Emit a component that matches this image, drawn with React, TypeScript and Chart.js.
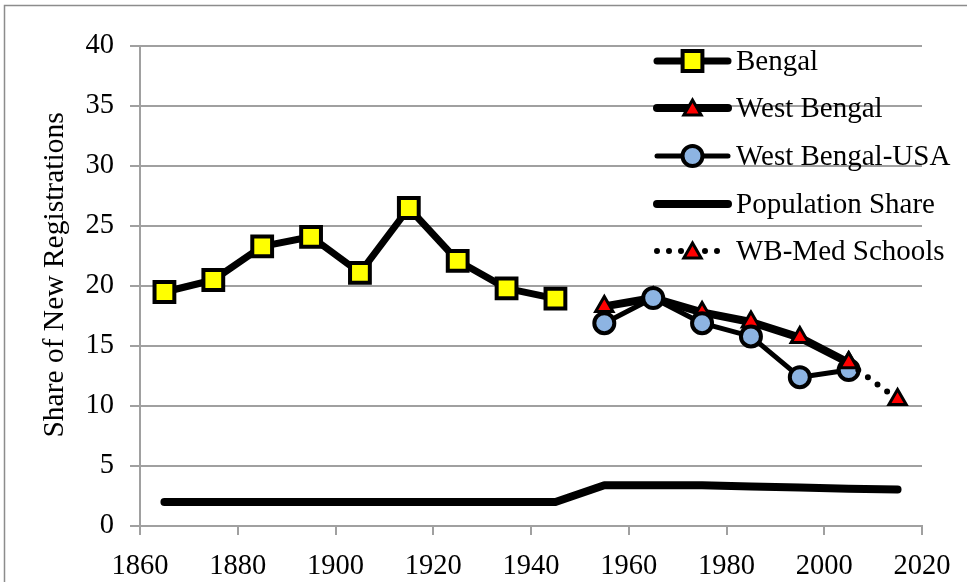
import React, { useEffect, useRef } from 'react';
import { Chart, registerables } from 'chart.js';

Chart.register(...registerables);

const bengalYears = [1865, 1875, 1885, 1895, 1905, 1915, 1925, 1935, 1945];
const bengalValues = [19.5, 20.5, 23.3, 24.1, 21.1, 26.5, 22.1, 19.8, 18.95];
const wbYears = [1955, 1965, 1975, 1985, 1995, 2005];
const wbValues = [18.3, 19.0, 17.8, 17.0, 15.7, 13.6];
const wbUsaYears = [1955, 1965, 1975, 1985, 1995, 2005];
const wbUsaValues = [16.9, 19.0, 16.9, 15.8, 12.4, 13.0];
const popYears = [1865, 1875, 1885, 1895, 1905, 1915, 1925, 1935, 1945, 1955, 1965, 1975, 1985, 1995, 2005, 2015];
const popValues = [2.0, 2.0, 2.0, 2.0, 2.0, 2.0, 2.0, 2.0, 2.0, 3.4, 3.4, 3.4, 3.3, 3.2, 3.1, 3.05];
const medYears = [2005, 2015];
const medValues = [13.6, 10.55];
const legendLabels = ['Bengal', 'West Bengal', 'West Bengal-USA', 'Population Share', 'WB-Med Schools'];
const yTitle = 'Share of New Registrations';

const FONT = '"Liberation Serif", "Times New Roman", serif';
const GRID = '#a0a0a0';

const pts = (xs: number[], ys: number[]) => xs.map((x, i) => ({ x, y: ys[i] }));

function drawMarker(ctx: CanvasRenderingContext2D, style: string, x: number, y: number, r: number, fill: string, bw: number) {
  ctx.save();
  ctx.beginPath();
  if (style === 'rect') {
    const s = Math.SQRT1_2 * r;
    ctx.rect(x - s, y - s, 2 * s, 2 * s);
  } else if (style === 'circle') {
    ctx.arc(x, y, r, 0, Math.PI * 2);
  } else if (style === 'triangle') {
    for (let k = 0; k < 3; k++) {
      const a = (k * 2 * Math.PI) / 3;
      const px = x + Math.sin(a) * r;
      const py = y - Math.cos(a) * r;
      if (k === 0) ctx.moveTo(px, py); else ctx.lineTo(px, py);
    }
    ctx.closePath();
  }
  ctx.fillStyle = fill;
  ctx.fill();
  ctx.lineWidth = bw;
  ctx.strokeStyle = '#000';
  ctx.lineJoin = 'miter';
  ctx.stroke();
  ctx.restore();
}

const decorPlugin = {
  id: 'decor',
  afterDraw(chart: any) {
    const ctx: CanvasRenderingContext2D = chart.ctx;
    ctx.save();
    // outer border
    ctx.strokeStyle = '#8c8c8c';
    ctx.lineWidth = 1.5;
    ctx.strokeRect(4.5, 5.5, 1000, 1000);
    // y axis title
    ctx.save();
    ctx.translate(55, 275);
    ctx.rotate(-Math.PI / 2);
    ctx.fillStyle = '#000';
    ctx.font = `29.5px ${FONT}`;
    ctx.textAlign = 'center';
    ctx.textBaseline = 'middle';
    ctx.fillText(yTitle, 0, 0);
    ctx.restore();
    // legend
    const x0 = 657, x1 = 728, tx = 736;
    const ys = [61, 108, 156, 204, 251];
    ys.forEach((y, i) => {
      const ds = chart.data.datasets[i];
      ctx.save();
      ctx.strokeStyle = '#000';
      ctx.lineWidth = ds.borderWidth;
      ctx.lineCap = 'round';
      if (ds.borderDash && ds.borderDash.length) ctx.setLineDash(ds.borderDash);
      ctx.beginPath();
      ctx.moveTo(x0, y);
      ctx.lineTo(x1, y);
      ctx.stroke();
      ctx.restore();
      if (ds.pointRadius > 0) {
        drawMarker(ctx, ds.pointStyle, (x0 + x1) / 2, y + (ds.pointStyle === 'triangle' ? 2 : 0), ds.pointRadius, ds.pointBackgroundColor, ds.pointBorderWidth);
      }
      ctx.fillStyle = '#000';
      ctx.font = `29px ${FONT}`;
      ctx.textBaseline = 'middle';
      ctx.textAlign = 'left';
      ctx.fillText(legendLabels[i], tx, y + 1);
    });
    ctx.restore();
  },
};

export default function App() {
  const ref = useRef<HTMLCanvasElement | null>(null);
  useEffect(() => {
    if (!ref.current) return;
    const chart = new Chart(ref.current, {
      type: 'line',
      data: {
        datasets: [
          {
            label: legendLabels[0],
            data: pts(bengalYears, bengalValues),
            borderColor: '#000',
            borderWidth: 7,
            pointStyle: 'rect',
            pointRadius: 14,
            pointBackgroundColor: '#FFFF00',
            pointBorderColor: '#000',
            pointBorderWidth: 4,
            order: 3,
          },
          {
            label: legendLabels[1],
            data: pts(wbYears, wbValues),
            borderColor: '#000',
            borderWidth: 8,
            pointStyle: 'triangle',
            pointRadius: 10,
            pointBackgroundColor: '#FF0000',
            pointBorderColor: '#000',
            pointBorderWidth: 3,
            order: 2,
          },
          {
            label: legendLabels[2],
            data: pts(wbUsaYears, wbUsaValues),
            borderColor: '#000',
            borderWidth: 5,
            pointStyle: 'circle',
            pointRadius: 10,
            pointBackgroundColor: '#8DB4E2',
            pointBorderColor: '#000',
            pointBorderWidth: 4,
            order: 1,
          },
          {
            label: legendLabels[3],
            data: pts(popYears, popValues),
            borderColor: '#000',
            borderWidth: 8,
            borderCapStyle: 'round',
            pointRadius: 0,
            order: 4,
          },
          {
            label: legendLabels[4],
            data: pts(medYears, medValues),
            borderColor: '#000',
            borderWidth: 6,
            borderDash: [0, 12],
            borderCapStyle: 'round',
            pointStyle: 'triangle',
            pointRadius: 10,
            pointBackgroundColor: '#FF0000',
            pointBorderColor: '#000',
            pointBorderWidth: 3,
            order: 0,
          },
        ] as any,
      },
      options: {
        animation: false,
        responsive: false,
        maintainAspectRatio: false,
        layout: { padding: { left: 0, top: 46, right: 45, bottom: 0 } },
        plugins: { legend: { display: false }, tooltip: { enabled: false } },
        elements: { line: { tension: 0, borderJoinStyle: 'round' } },
        scales: {
          x: {
            type: 'linear',
            min: 1860,
            max: 2020,
            ticks: { stepSize: 20, color: '#000', padding: 14, font: { family: FONT, size: 28.5 }, callback: (v: any) => String(v) },
            grid: { drawOnChartArea: false, drawTicks: true, tickLength: 9, color: GRID, lineWidth: 2 },
            border: { display: true, color: GRID, width: 2 },
            afterFit: (s: any) => { s.height = 56; },
          },
          y: {
            min: 0,
            max: 40,
            ticks: { stepSize: 5, color: '#000', padding: 16, font: { family: FONT, size: 28.5 } },
            grid: { drawTicks: true, tickLength: 10, color: GRID, lineWidth: 2 },
            border: { display: true, color: GRID, width: 2 },
            title: { display: false },
            afterFit: (s: any) => { s.width = 140; },
          },
        },
      } as any,
      plugins: [decorPlugin],
    });
    return () => chart.destroy();
  }, []);
  return (
    <div style={{ position: 'absolute', left: 0, top: 0, width: 967, height: 582, background: '#fff' }}>
      <canvas ref={ref} width={967} height={582} style={{ width: 967, height: 582, display: 'block' }} />
    </div>
  );
}
